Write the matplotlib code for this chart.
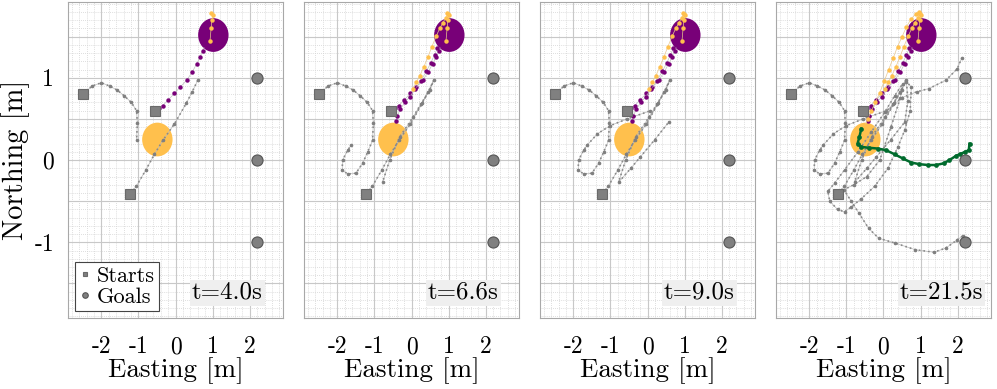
import numpy as np
import matplotlib
matplotlib.use('Agg')
import matplotlib.pyplot as plt
from matplotlib.patches import Ellipse
from matplotlib.ticker import MultipleLocator, FuncFormatter

plt.rcParams['font.family'] = 'serif'
plt.rcParams['font.serif'] = ['cmr10']
plt.rcParams['axes.unicode_minus'] = False
plt.rcParams['mathtext.fontset'] = 'cm'

# ---- data (metres) ----
times = ['t=4.0s', 't=6.6s', 't=9.0s', 't=21.5s']

starts = [(-2.5, 0.8), (-0.55, 0.6), (-1.22, -0.41)]
goals = [(2.2, 1.0), (2.2, 0.0), (2.2, -1.0)]

purple_robot = (1.02, 1.52)
yellow_robot = (-0.49, 0.25)

# grey trajectory from the left start
grey_a = [(-2.5, 0.8), (-2.25, 0.9), (-2.0, 0.94), (-1.78, 0.9), (-1.57, 0.85),
          (-1.38, 0.78), (-1.19, 0.70), (-1.05, 0.6), (-1.03, 0.45), (-1.05, 0.24),
          (-1.18, 0.1), (-1.32, -0.04), (-1.5, -0.16), (-1.72, -0.17), (-1.87, -0.12),
          (-1.86, 0.0), (-1.72, 0.12), (-1.63, 0.18),
          (-1.35, 0.32), (-1.0, 0.42), (-0.55, 0.5), (0.08, 0.6),
          (0.5, 0.76), (0.9, 0.83), (1.23, 0.87), (1.68, 0.97), (1.99, 1.11), (2.11, 1.24)]
grey_a_cut = [10, 18, 22, 28]

# grey trajectory from the lower start
grey_b = [(-1.22, -0.41), (-1.06, -0.32), (-0.8, -0.12), (-0.57, 0.07), (-0.34, 0.24),
          (-0.03, 0.44), (0.29, 0.69), (0.45, 0.83), (0.6, 0.97),
          (0.49, 0.85), (0.25, 0.68), (0.04, 0.52), (-0.32, 0.28), (-0.59, 0.0), (-0.78, -0.27),
          (-0.45, -0.1), (-0.19, 0.04), (0.2, 0.25), (0.57, 0.46),
          (0.66, 0.72), (0.62, 0.95), (0.75, 0.89), (0.72, 0.6), (0.57, 0.36), (0.39, 0.16),
          (0.12, -0.1), (-0.24, -0.32), (-0.6, -0.47), (-0.87, -0.57), (-1.05, -0.63),
          (-1.24, -0.6), (-1.45, -0.5), (-1.5, -0.38), (-1.32, -0.28), (-1.05, -0.12),
          (-0.69, 0.1), (-0.33, 0.34), (0.03, 0.58), (0.3, 0.78), (0.52, 0.93),
          (0.45, 0.75), (0.2, 0.4), (-0.1, 0.0), (-0.45, -0.2), (-0.8, -0.3), (-1.07, -0.36),
          (-0.87, -0.5), (-0.67, -0.64), (-0.4, -0.83), (-0.13, -0.95), (0.32, -1.01),
          (0.86, -1.09), (1.36, -1.12), (1.68, -1.07), (1.99, -0.97), (2.14, -0.92)]
grey_b_cut = [9, 15, 19, 56]

purple_1 = [(-0.55, 0.6), (-0.45, 0.63), (-0.35, 0.66), (-0.2, 0.73), (-0.03, 0.81),
            (0.13, 0.89), (0.3, 0.97), (0.45, 1.07), (0.57, 1.17), (0.66, 1.25),
            (0.73, 1.33), (0.8, 1.4)]
purple_2 = [(-0.42, 0.47), (-0.38, 0.54), (-0.3, 0.62), (-0.18, 0.7), (-0.05, 0.77),
            (0.1, 0.86), (0.25, 0.96), (0.4, 1.08), (0.52, 1.18), (0.62, 1.28), (0.7, 1.36)]

yellow_1 = [(0.93, 1.45), (0.96, 1.6), (0.98, 1.7), (1.0, 1.76), (0.97, 1.79)]
yellow_2 = [(0.04, 0.87), (0.13, 0.95), (0.22, 1.02), (0.33, 1.13), (0.44, 1.25),
            (0.55, 1.38), (0.67, 1.51), (0.76, 1.6), (0.85, 1.67), (0.92, 1.73), (0.98, 1.77)]
yellow_3 = [(-0.5, 0.42), (-0.42, 0.5), (-0.33, 0.6), (-0.22, 0.7), (-0.1, 0.82),
            (0.02, 0.96), (0.14, 1.1), (0.26, 1.24), (0.38, 1.38), (0.5, 1.5),
            (0.62, 1.62), (0.75, 1.72), (0.88, 1.78), (0.96, 1.8)]

green_1 = [(-0.6, 0.38), (-0.65, 0.28), (-0.7, 0.2), (-0.6, 0.16), (-0.4, 0.15),
           (-0.15, 0.14), (0.07, 0.12), (0.3, 0.07), (0.52, 0.02), (0.75, -0.03),
           (0.97, -0.05), (1.2, -0.06), (1.42, -0.06), (1.62, -0.04), (1.78, 0.0),
           (1.95, 0.05), (2.05, 0.07), (2.2, 0.1), (2.3, 0.12), (2.32, 0.2)]

PURPLE = '#780078'
YELLOW = '#FFC04D'
GREEN = '#006B2D'


def grey_path(ax, pts):
    p = np.array(pts)
    ax.plot(p[:, 0], p[:, 1], color='#b8b8b8', lw=0.5, zorder=3)
    ax.plot(p[:, 0], p[:, 1], color='#8a8a8a', lw=1.2, ls=(0, (1, 1.8)), zorder=3)
    ax.plot(p[:, 0], p[:, 1], ls='none', marker='o', ms=1.6, color='#808080', zorder=3)


def dot_path(ax, pts, c, ms=3.2, lw=0.5, lc='#c0c0c0'):
    p = np.array(pts)
    ax.plot(p[:, 0], p[:, 1], color=lc, lw=lw, zorder=4)
    ax.plot(p[:, 0], p[:, 1], ls='none', marker='o', ms=ms, mfc=c, mec='none', zorder=4)


fig = plt.figure(figsize=(9.97, 3.89), dpi=100)
lefts = [0.0682, 0.3049, 0.5416, 0.7783]

for k in range(4):
    ax = fig.add_axes([lefts[k], 0.1825, 0.2157, 0.812])
    ax.set_xlim(-2.9, 2.9)
    ax.set_ylim(-1.92, 1.92)

    ax.xaxis.set_major_locator(MultipleLocator(1))
    ax.xaxis.set_minor_locator(MultipleLocator(0.2))
    ax.yaxis.set_major_locator(MultipleLocator(0.5))
    ax.yaxis.set_minor_locator(MultipleLocator(0.1))
    ax.grid(which='major', color='#c8c8c8', lw=0.8, ls='-', zorder=0)
    ax.grid(which='minor', color='#d4d4d4', lw=0.6, ls=(0, (1, 1.5)), zorder=0)
    ax.set_axisbelow(True)
    for s in ax.spines.values():
        s.set_color('#a8a8a8')
        s.set_linewidth(0.8)
    ax.tick_params(which='both', direction='in', length=0, labelsize=17)
    ax.tick_params(axis='x', pad=13)
    ax.tick_params(axis='y', pad=10)
    ax.xaxis.set_major_formatter(FuncFormatter(lambda v, p: '%d' % round(v)))
    if k == 0:
        ax.yaxis.set_major_formatter(FuncFormatter(
            lambda v, p: '%d' % round(v) if abs(v - round(v)) < 1e-6 else ''))
        ax.set_ylabel('Northing [m]', fontsize=20.5, labelpad=3)
    else:
        ax.set_yticklabels([])
    ax.set_xlabel('Easting [m]', fontsize=19.5, labelpad=-1)

    ax.add_patch(Ellipse(purple_robot, 0.82, 0.41, color=PURPLE, zorder=2, lw=0))
    ax.add_patch(Ellipse(yellow_robot, 0.82, 0.41, color=YELLOW, zorder=2, lw=0))

    grey_path(ax, grey_a[:grey_a_cut[k]])
    grey_path(ax, grey_b[:grey_b_cut[k]])

    dot_path(ax, purple_1, PURPLE)
    if k > 0:
        dot_path(ax, purple_2, PURPLE)
    dot_path(ax, yellow_1, YELLOW, lc='#e8c890')
    if k > 0:
        dot_path(ax, yellow_2, YELLOW, lc='#e8c890')
    if k == 3:
        dot_path(ax, yellow_3, YELLOW, lc='#e8c890')
        dot_path(ax, green_1, GREEN, ms=3.4, lw=1.8, lc=GREEN)

    sx = [s[0] for s in starts]
    sy = [s[1] for s in starts]
    gx = [g[0] for g in goals]
    gy = [g[1] for g in goals]
    ax.plot(sx, sy, ls='none', marker='s', ms=7, mfc='#808080', mec='#6a6a6a',
            mew=0.8, zorder=5, label='Starts')
    ax.plot(gx, gy, ls='none', marker='o', ms=8, mfc='#808080', mec='#555555',
            mew=0.8, zorder=5, label='Goals')

    ax.text(0.575, 0.045, times[k], transform=ax.transAxes, fontsize=18,
            ha='left', va='bottom', zorder=6,
            bbox=dict(facecolor='#efefef', edgecolor='none', pad=1.5))

    if k == 0:
        leg = ax.legend(loc='lower left', fontsize=16, markerscale=0.5,
                        handlelength=0.5, handletextpad=0.3, borderpad=0.2,
                        borderaxespad=0.3, labelspacing=0.05, fancybox=False,
                        framealpha=1)
        leg.get_frame().set_edgecolor('#444444')
        leg.get_frame().set_linewidth(0.8)

fig.savefig('out.png', dpi=100)
